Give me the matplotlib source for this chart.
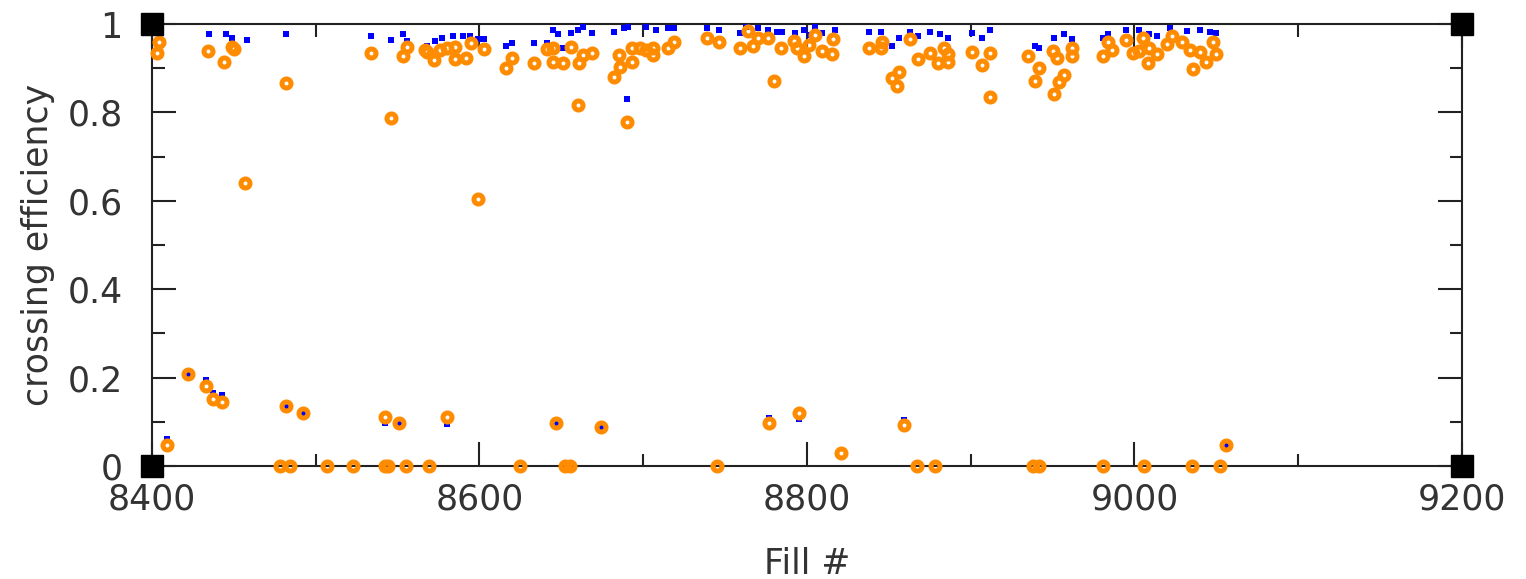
import matplotlib
matplotlib.use("Agg")
import matplotlib.pyplot as plt
from matplotlib.ticker import MultipleLocator

# blue series (small squares)
blue_fill = [8404, 8435, 8445, 8449, 8458, 8482, 8534, 8546, 8553, 8556,
             8568, 8573, 8577, 8584, 8590, 8594, 8599, 8603, 8616, 8620,
             8633, 8641, 8645, 8648, 8651, 8656, 8660, 8663, 8669, 8682,
             8688, 8690, 8691, 8702, 8708, 8715, 8719, 8739, 8746, 8759,
             8763, 8770, 8776, 8782, 8785, 8793, 8798, 8802, 8805, 8809,
             8817, 8838, 8845, 8852, 8856, 8863, 8868, 8875, 8881, 8886,
             8901, 8907, 8912, 8939, 8942, 8951, 8957, 8962, 8981, 8984,
             8995, 9003, 9009, 9014, 9022, 9032, 9040, 9046, 9050,
             8409, 8422, 8433, 8437, 8443, 8482, 8492, 8542, 8551, 8580,
             8647, 8674, 8777, 8795, 8859, 9056]
blue_eff = [0.982, 0.977, 0.977, 0.968, 0.964, 0.977, 0.973, 0.964, 0.977, 0.962,
            0.950, 0.962, 0.968, 0.973, 0.973, 0.973, 0.966, 0.966, 0.950, 0.957,
            0.957, 0.957, 0.986, 0.977, 0.946, 0.980, 0.986, 0.993, 0.980, 0.982,
            0.991, 0.830, 0.993, 0.993, 0.986, 0.991, 0.991, 0.991, 0.986, 0.980,
            0.993, 0.991, 0.986, 0.982, 0.982, 0.980, 0.986, 0.975, 0.993, 0.980,
            0.986, 0.982, 0.982, 0.950, 0.968, 0.982, 0.973, 0.982, 0.977, 0.968,
            0.980, 0.968, 0.986, 0.950, 0.946, 0.968, 0.977, 0.966, 0.968, 0.977,
            0.986, 0.986, 0.977, 0.973, 0.991, 0.984, 0.986, 0.982, 0.980,
            0.061, 0.208, 0.195, 0.165, 0.161, 0.136, 0.120, 0.097, 0.097, 0.095,
            0.097, 0.088, 0.109, 0.106, 0.104, 0.048]

# orange series (rings)
orange_fill = [8404, 8403, 8409, 8422, 8433, 8434, 8437, 8443, 8444, 8449,
               8450, 8457, 8478, 8482, 8482, 8484, 8492, 8507, 8523, 8534,
               8542, 8542, 8544, 8546, 8551, 8553, 8555, 8556, 8567, 8568,
               8569, 8572, 8576, 8580, 8580, 8585, 8585, 8592, 8595, 8599,
               8603, 8616, 8620, 8625, 8633, 8641, 8645, 8645, 8647, 8651,
               8652, 8655, 8656, 8660, 8661, 8663, 8669, 8674, 8682, 8685,
               8686, 8690, 8693, 8693, 8698, 8702, 8706, 8706, 8715, 8719,
               8739, 8745, 8746, 8759, 8764, 8767, 8770, 8776, 8777, 8780,
               8784, 8792, 8794, 8795, 8798, 8801, 8805, 8809, 8815, 8816,
               8821, 8838, 8845, 8846, 8852, 8855, 8856, 8859, 8863, 8867,
               8868, 8875, 8878, 8880, 8884, 8886, 8886, 8901, 8907, 8912,
               8912, 8935, 8938, 8939, 8942, 8942, 8950, 8951, 8953, 8954,
               8957, 8962, 8962, 8981, 8981, 8984, 8986, 8995, 8999, 9003,
               9005, 9006, 9008, 9009, 9014, 9020, 9023, 9029, 9034, 9035,
               9036, 9040, 9044, 9048, 9050, 9052, 9056]
orange_eff = [0.959, 0.934, 0.048, 0.208, 0.181, 0.939, 0.152, 0.145, 0.914, 0.948,
              0.943, 0.640, 0.0, 0.866, 0.136, 0.0, 0.120, 0.0, 0.0, 0.934,
              0.111, 0.0, 0.0, 0.787, 0.097, 0.928, 0.0, 0.948, 0.941, 0.937,
              0.0, 0.918, 0.941, 0.946, 0.111, 0.921, 0.948, 0.923, 0.957, 0.604,
              0.943, 0.900, 0.923, 0.0, 0.912, 0.943, 0.946, 0.914, 0.097, 0.912,
              0.0, 0.0, 0.948, 0.817, 0.912, 0.930, 0.934, 0.088, 0.880, 0.930,
              0.903, 0.778, 0.914, 0.946, 0.946, 0.941, 0.930, 0.946, 0.946, 0.959,
              0.968, 0.0, 0.959, 0.946, 0.984, 0.950, 0.968, 0.968, 0.097, 0.871,
              0.946, 0.962, 0.946, 0.120, 0.928, 0.952, 0.975, 0.939, 0.932, 0.966,
              0.029, 0.946, 0.946, 0.959, 0.878, 0.860, 0.891, 0.093, 0.966, 0.0,
              0.921, 0.934, 0.0, 0.912, 0.946, 0.914, 0.932, 0.937, 0.907, 0.934,
              0.835, 0.928, 0.0, 0.871, 0.900, 0.0, 0.939, 0.842, 0.923, 0.869,
              0.885, 0.928, 0.946, 0.928, 0.0, 0.959, 0.941, 0.964, 0.934, 0.939,
              0.968, 0.0, 0.912, 0.946, 0.932, 0.955, 0.973, 0.959, 0.941, 0.0,
              0.898, 0.937, 0.914, 0.959, 0.932, 0.0, 0.048]

xticks = [8400, 8600, 8800, 9000, 9200]
yticks = [0, 0.2, 0.4, 0.6, 0.8, 1]
ytick_labels = ["0", "0.2", "0.4", "0.6", "0.8", "1"]

fig = plt.figure(figsize=(15.26, 5.79), dpi=100)
ax = fig.add_axes([0.0996, 0.1952, 0.8584, 0.7633])

ax.plot(blue_fill, blue_eff, 's', color='#0000ff', ms=5, mew=0, clip_on=False, zorder=3)
ax.plot(orange_fill, orange_eff, 'o', mfc='none', mec='#ff8c00', ms=6.5, mew=3.6,
        clip_on=False, zorder=4)

ax.set_xlim(8400, 9200)
ax.set_ylim(0, 1)
ax.set_xticks(xticks)
ax.set_yticks(yticks)
ax.set_yticklabels(ytick_labels)
ax.xaxis.set_minor_locator(MultipleLocator(100))
ax.yaxis.set_minor_locator(MultipleLocator(0.1))

ax.tick_params(which='both', direction='in', top=True, right=True,
               width=1.5, colors='#222222', labelsize=25, labelcolor='#333333')
ax.tick_params(which='major', length=17)
ax.tick_params(which='minor', length=9)
ax.tick_params(axis='x', pad=12)
ax.tick_params(axis='y', pad=21)

for spine in ax.spines.values():
    spine.set_linewidth(1.5)
    spine.set_color('#222222')

# black squares at the frame corners
ax.plot([0, 1, 0, 1], [0, 0, 1, 1], 's', color='black', ms=16,
        transform=ax.transAxes, clip_on=False, zorder=6)

ax.set_xlabel("Fill #", fontsize=25, color='#333333', labelpad=22)
ax.set_ylabel("crossing efficiency", fontsize=25, color='#333333', labelpad=9)

fig.savefig("out.png", dpi=100, facecolor='white')
